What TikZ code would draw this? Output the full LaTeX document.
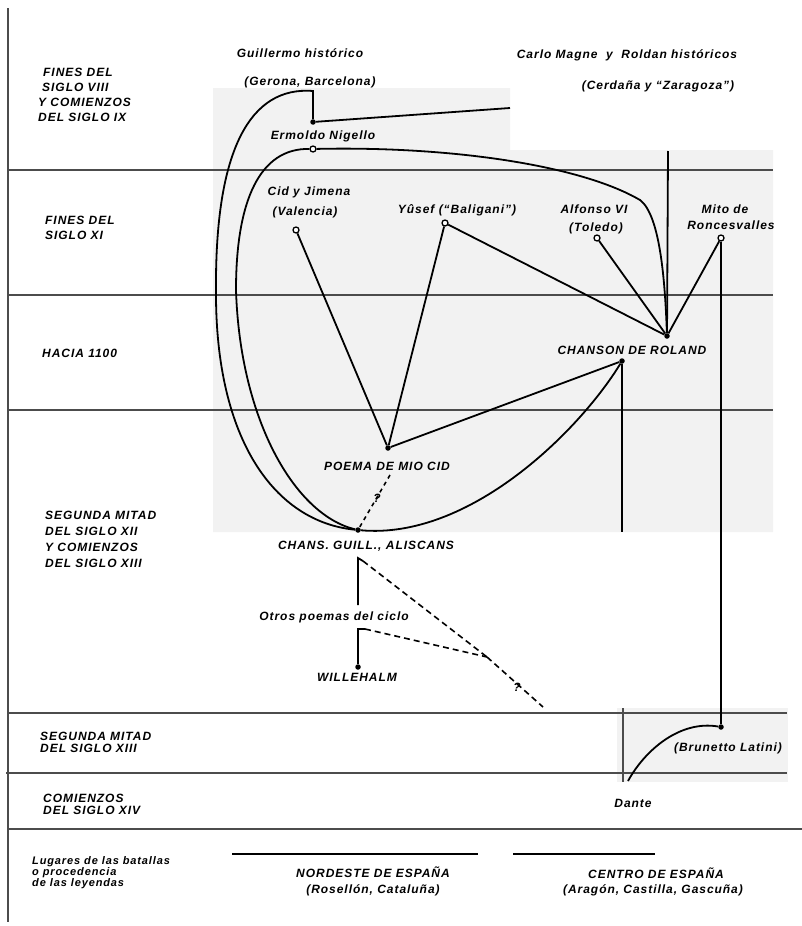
\documentclass[tikz,border=0pt]{standalone}
\usepackage{fontspec}
\newfontfamily\labfam[LetterSpace=8]{Liberation Sans}
\newcommand\labfont{\labfam\bfseries\itshape\fontsize{12}{15}\selectfont}
\begin{document}
\begin{tikzpicture}[x=1pt,y=-1pt,
  lbl/.style={inner sep=0pt,font=\labfont},
  per/.style={inner sep=0pt,anchor=west,align=left},
  grid/.style={line width=1.3pt,draw=black!70},
  conn/.style={line width=1.8pt,draw=black},
  dashln/.style={line width=1.6pt,draw=black,dash pattern=on 6pt off 4pt},
  odot/.style={circle,draw=black,fill=white,line width=1.3pt,inner sep=0pt,minimum size=6pt},
  fdot/.style={circle,fill=black,inner sep=0pt,minimum size=5.5pt}]
\path[use as bounding box] (0,0) rectangle (802,926);
% scan patches
\fill[black!5] (213,88) -- (510,88) -- (510,150) -- (773,150) -- (773,532) -- (213,532) -- cycle;
\fill[black!5] (617,708) rectangle (788,782);
% grid
\draw[grid] (8,8) -- (8,922);
\draw[grid] (8,170) -- (773,170);
\draw[grid] (8,295) -- (773,295);
\draw[grid] (8,410) -- (773,410);
\draw[grid] (8,713) -- (787,713);
\draw[grid] (6,773) -- (787,773);
\draw[grid] (8,829) -- (802,829);
\draw[grid] (623,708) -- (623,782);
\draw[line width=1.3pt] (232,854) -- (478,854);
\draw[line width=1.3pt] (513,854) -- (655,854);
% period labels
\node[per,font=\labfam\bfseries\itshape\fontsize{12}{15}\selectfont] (p1) at (38,94.5) {\hspace*{5pt}FINES DEL\\\hspace*{4pt}SIGLO VIII\\Y COMIENZOS\\DEL SIGLO IX};
\node[per,font=\labfam\bfseries\itshape\fontsize{12}{15}\selectfont] (p2) at (45,227.5) {FINES DEL\\SIGLO XI};
\node[per,font=\labfont] (p3) at (42,353) {HACIA 1100};
\node[per,font=\labfam\bfseries\itshape\fontsize{12}{16}\selectfont] (p4) at (45,539) {SEGUNDA MITAD\\DEL SIGLO XII\\Y COMIENZOS\\DEL SIGLO XIII};
\node[per,font=\labfam\bfseries\itshape\fontsize{12}{11.5}\selectfont] (p5) at (40,742.5) {SEGUNDA MITAD\\DEL SIGLO XIII};
\node[per,font=\labfam\bfseries\itshape\fontsize{12}{12}\selectfont] (p6) at (43,804) {COMIENZOS\\DEL SIGLO XIV};
\node[per,font=\labfam\bfseries\itshape\fontsize{11}{11}\selectfont] (p7) at (32,873) {Lugares de las batallas\\o procedencia\\de las leyendas};
% text labels
\node[lbl] (guiT) at (300,53) {Guillermo histórico};
\node[lbl] (guiP) at (310,82) {(Gerona, Barcelona)};
\node[lbl] (carT) at (627,55) {Carlo Magne\ \ y\ \ Roldan históricos};
\node[lbl] (carP) at (658,86) {(Cerdaña y “Zaragoza”)};
\node[lbl] (ermT) at (323,136) {Ermoldo Nigello};
\node[lbl] (cidT) at (309,192) {Cid y Jimena};
\node[lbl] (cidP) at (305,212) {(Valencia)};
\node[lbl] (yusT) at (457,210) {Yûsef (“Baligani”)};
\node[lbl] (alfT) at (594,209) {Alfonso VI};
\node[lbl] (alfP) at (596,228) {(Toledo)};
\node[lbl] (mitT) at (725,209) {Mito de};
\node[lbl] (mitP) at (731,225) {Roncesvalles};
\node[lbl] (rolT) at (632,350) {CHANSON DE ROLAND};
\node[lbl] (poeT) at (387,466) {POEMA DE MIO CID};
\node[lbl] (chgT) at (366,546) {CHANS. GUILL., ALISCANS};
\node[lbl] (otrT) at (334,617) {Otros poemas del ciclo};
\node[lbl] (wilT) at (357,677) {WILLEHALM};
\node[lbl] (bruT) at (728,748) {(Brunetto Latini)};
\node[lbl] (danT) at (633,803) {Dante};
\node[lbl] (norT) at (373,872) {NORDESTE DE ESPAÑA};
\node[lbl] (norP) at (373,890) {(Rosellón, Cataluña)};
\node[lbl] (cenT) at (656,873) {CENTRO DE ESPAÑA};
\node[lbl] (cenP) at (653,890) {(Aragón, Castilla, Gascuña)};
\node[lbl] (q1) at (377,498) {?};
\node[lbl] (q2) at (517,687) {?};
% points
\coordinate (gtop) at (313,91);
\coordinate (brkE) at (510,108);
\coordinate (carE) at (668,151);
\coordinate (rolBE) at (622,532);
\coordinate (poeD) at (390,475);
\coordinate (chgL) at (358,605);
\coordinate (chgH) at (358,558);
\coordinate (chgR) at (363,561);
\coordinate (wilH) at (358,629);
\coordinate (wilR) at (365,629);
\coordinate (junc) at (487,657);
\coordinate (dashE) at (543,707);
\coordinate (danE) at (628,781);
\node[fdot] (brk) at (313,122) {};
\node[odot] (erm) at (313,149) {};
\node[odot] (cid) at (296,230) {};
\node[odot] (yus) at (445,223) {};
\node[odot] (alf) at (597,238) {};
\node[odot] (mit) at (721,238) {};
\node[fdot] (rolA) at (667,336) {};
\node[fdot] (rolB) at (622,361) {};
\node[fdot] (poe) at (388,448) {};
\node[fdot] (chg) at (358,530) {};
\node[fdot] (wil) at (358,667) {};
\node[fdot] (bru) at (721,727) {};
% connectors
\draw[conn] (brk) -- (gtop) .. controls (250,86) and (215,150) .. (216,290)
  .. controls (215,440) and (275,522) .. (chg);
\draw[conn] (brk) -- (brkE);
\draw[conn] (erm) .. controls (260,148) and (236,200) .. (236,290)
  .. controls (240,420) and (295,515) .. (chg);
\draw[conn] (erm) .. controls (450,146) and (580,165) .. (640,200)
  .. controls (660,215) and (665,280) .. (rolA);
\draw[conn] (carE) -- (rolA);
\draw[conn] (yus) -- (rolA);
\draw[conn] (alf) -- (rolA);
\draw[conn] (mit) -- (rolA);
\draw[conn] (mit) -- (bru);
\draw[conn] (cid) -- (poe);
\draw[conn] (yus) -- (poe);
\draw[conn] (poe) -- (rolB);
\draw[conn] (rolB) .. controls (580,430) and (470,540) .. (chg);
\draw[conn] (rolB) -- (rolBE);
\draw[line width=1.6pt,dash pattern=on 4pt off 4pt] (poeD) -- (chg);
\draw[conn] (chgL) -- (chgH) -- (chgR);
\draw[conn] (wil) -- (wilH) -- (wilR);
\draw[dashln] (chgR) -- (junc);
\draw[dashln] (wilR) -- (junc);
\draw[dashln] (junc) -- (dashE);
\draw[conn] (bru) .. controls (680,720) and (645,750) .. (danE);
\end{tikzpicture}
\end{document}
